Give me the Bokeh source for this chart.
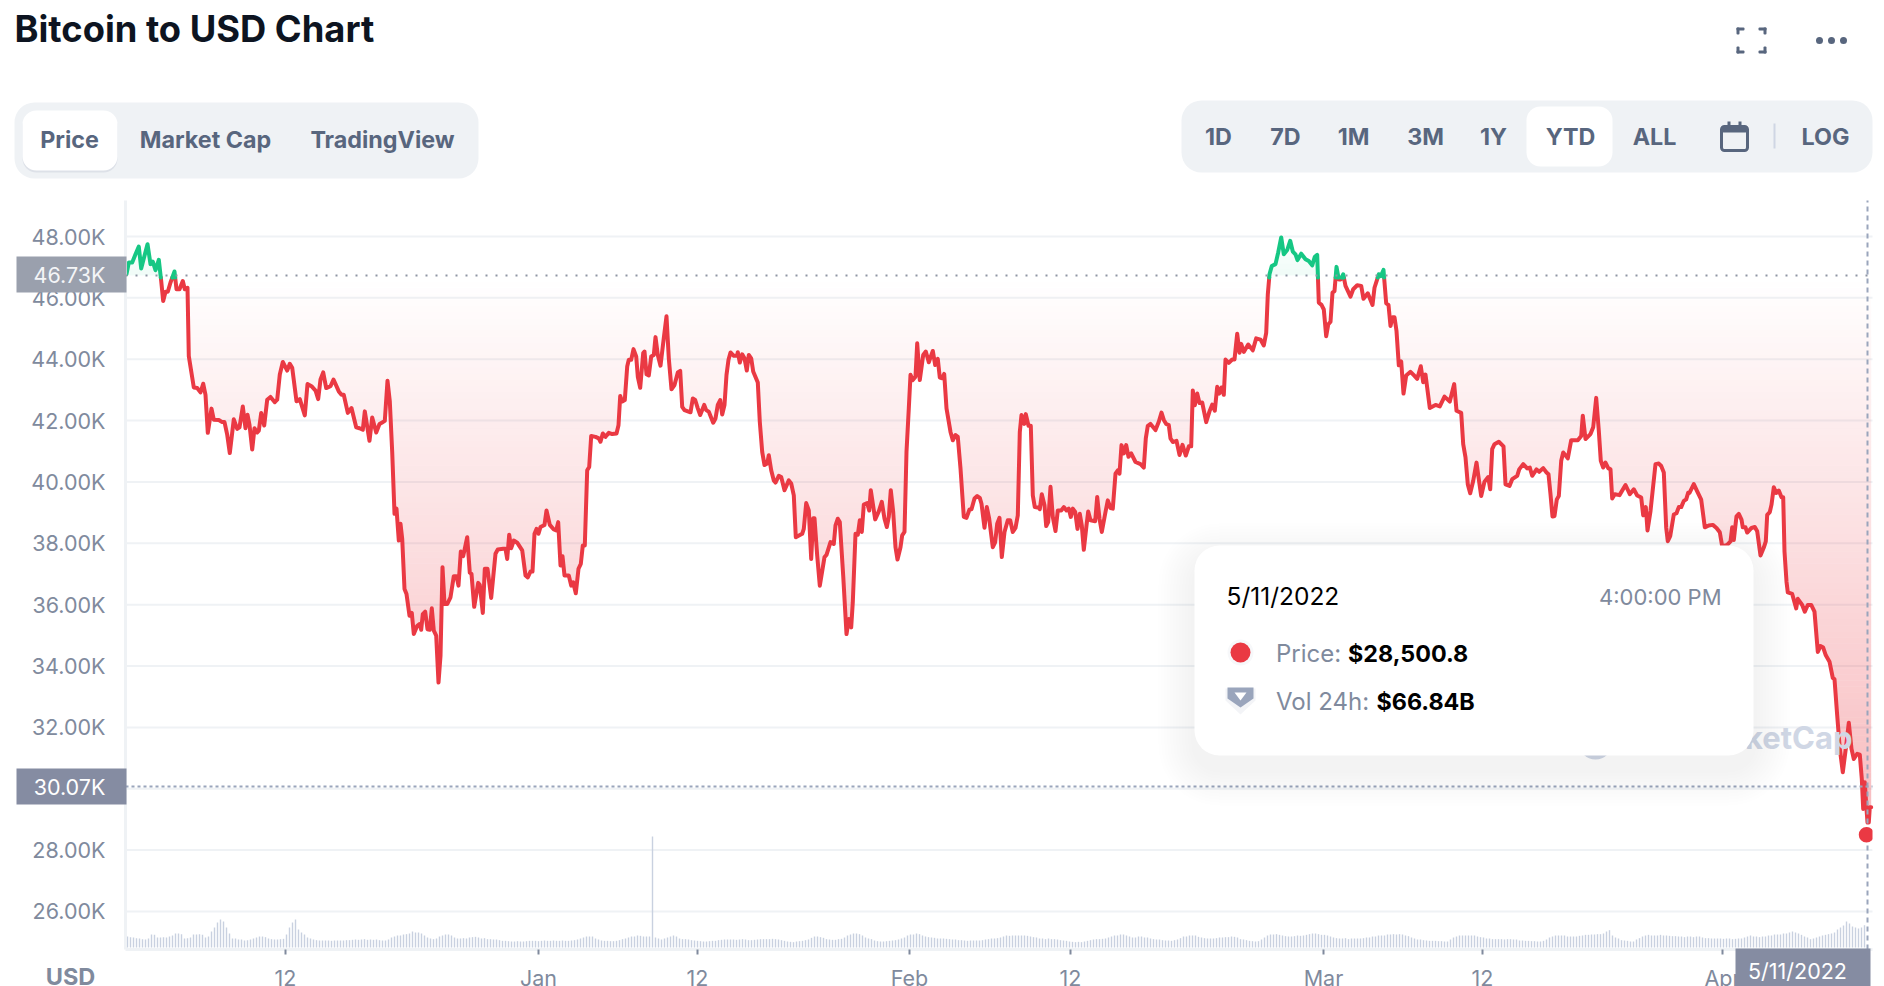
import numpy as np
from bokeh.plotting import figure
from bokeh.models import (BoxAnnotation, Label, PolyAnnotation, FixedTicker,
                          PrintfTickFormatter, Range1d)
from bokeh.embed import file_html
from bokeh.resources import INLINE

# ---------- data ----------
position = [
126,128.3,131.7,135,138.3,140.7,144,147,150,152.3,155,158.3,160.7,162.7,165,167.3,170,174,176,179,182.3,184.3,187,188.3,193.3,196.7,200,202.7,205,207.3,211,213.3,218.3,221.7,224,226.7,229.3,233.3,236.7,239,242.3,245,247,249,251.7,254,256.7,258.3,260.7,263.7,266.7,270,274.3,276.7,279.3,282.3,286.7,289.3,291.7,296,299.3,304.3,307,311,315,317.7,320,322.7,325.7,330,333,338.3,341,343.3,347.3,351,355.7,359,362.3,364.3,369,371.7,375.7,379,381.7,384.3,387,389.3,
391.7,394,396,398.3,400,401.7,404,406,409,411.3,413.3,416.7,419.3,420.7,422.3,424.7,427,429.3,431.3,433.3,435.7,438,440,442,444,446.7,450,453.3,456,458,460.3,462.7,466.7,469.3,471,473.7,477.7,479.3,482.3,484.3,487,490.7,495,497.3,502.7,505,506.7,508.7,510.7,513.3,516.7,521.7,525,527.3,530,532,534,536,538,540,544,546,549.3,553.3,555.7,557.7,560,562,564,568.3,570.7,572.7,575.3,578,580.3,582.3,584.3,586.7,588.7,590.7,595,598.3,600,602.3,605,608.3,611.7,616,618,619.7,621.7,624.3,626.7,628.3,630.7,633,635.7,637.3,639.7,
642.7,644,646,648.3,650.7,653.3,655,657.3,660,663.3,666,668.3,671,674,677.3,679.7,681.7,684,690,692.3,694.7,697.3,699.7,703.7,705.7,708.3,712.7,715,717.3,719.7,721.7,724,726,728,730,733.3,736.7,737.3,739.3,741.7,744,746.3,748.3,750.7,752.7,757.3,759.3,761.7,764,766.7,768.3,770.7,773.3,775,778.3,780.7,784,788.3,790.7,793.3,795.3,801.7,803.3,805.7,808.3,810.7,812.7,814,816.7,819.3,824,826,830,833.3,835,837.3,839.3,842.7,846,848.3,850.7,852.3,855,857.3,859.3,861.3,863.3,866.7,868.7,870.3,874.7,878.3,881.3,884,886.3,888.3,890.3,892.7,895,897,900,901.7,904,906,908.3,
910,912.3,915,916.7,919.3,922.7,925.3,928.3,932.3,934.7,937.3,939.3,941.7,943.7,946,950,952.3,955,957.3,960,963.3,966,969,971,974,976.7,979.3,981,984,986.3,988.7,992.3,994.7,996.7,999,1001.3,1004,1007.3,1009.7,1012.3,1015,1017.3,1019.3,1021,1023.7,1025.3,1028,1030.3,1032.3,1034.3,1038.3,1039.3,1041.3,1044,1045.7,1047.7,1050,1052.3,1055,1057.3,1060.7,1063.3,1066,1068.3,1070.3,1072.3,1074.7,1077,1079.3,1081.3,1083.3,1086,1087.7,1090,1094.7,1096.7,1099,1101.3,1105,1107.3,1110,1112.3,1115,1117.3,1119,1121,1123.3,1125.7,1128,1130.7,1135,1140,1143.3,1145.3,1147.3,1150,1155,1158.3,1161,1163.3,1165.7,1168.3,
1170,1172.3,1176,1179,1182,1185.3,1188.3,1190.7,1192.3,1194.3,1196.7,1199,1201.7,1205.7,1209,1211.7,1214.3,1216.7,1218.7,1221,1223.3,1225,1228.3,1231.7,1234,1236.7,1239,1240.7,1243.3,1247.7,1252.3,1255.7,1260,1263.3,1265.7,1267.3,1269,1271.3,1275,1277.7,1280.7,1283.3,1286.7,1289.7,1292.3,1295,1297,1300.7,1305,1308.3,1311.7,1314.3,1316.7,1318.3,1321,1323.3,1325.7,1327.7,1330,1332,1334,1336,1338.3,1340.3,1342.7,1345,1350,1352.7,1356.7,1360.7,1363,1367.3,1372,1374,1378.3,1380.3,1383,1385.7,1388,1390,1392,1394,1396,1398.3,1400.7,1403,1405.7,1410,1413.3,1416.7,1420.3,1422.7,1425,1429.3,
1435,1439.3,1444,1449.3,1453.7,1456,1460.7,1462.7,1465,1467.3,1469.7,1472.7,1476,1478.3,1480.7,1484,1487.7,1489.7,1491.7,1494,1498.3,1503,1505,1509,1511.7,1516.7,1518.7,1522.7,1526.7,1529.3,1531.7,1536,1538.7,1542.7,1546,1548,1550,1552,1554,1556.3,1558.3,1560.7,1562.7,1567.3,1570.7,1577.3,1580.7,1582.3,1585,1590,1592.7,1595.7,1598.3,1600.3,1602.7,1605,1607.7,1610,1611.7,1614.3,1619,1625,1629.3,1633.3,1636.7,1640.7,1642.7,1645.3,1647,1650,1655,1658.3,1660.7,1663.3,1665.7,1667.3,1669.7,1673.3,1676,1678.3,1680.7,1683.3,1685.7,1687.7,
1689,1693.3,1696.7,1700.7,1704.3,1708.3,1712.3,1716,1719.3,1721.7,1726.7,1730,1731.7,1733.3,1736,1738.3,1741,1742.3,1745,1746.7,1751,1754.3,1756.7,1760,1763.3,1765.3,1766.7,1769.3,1771,1773.3,1775.7,1778.3,1781,1782.7,1784,1786,1787.3,1791.7,1795.7,1797.3,1801.7,1804.3,1807.3,1810.7,1814,1817.3,1820,1822.7,1825.3,1829,1832.3,1834,1836.7,1839.3,1842.3,1845.7,1848.3,1851,1853.3,1856.7,1859.3,1861.3,1862.7,1864.3,1866,1867,1868.3,1869.3,1870.7,
]
price_k = [
46.77,47.15,47.15,47.42,47.67,46.96,47.37,47.75,47.10,47.18,46.90,47.24,46.55,45.90,46.20,46.20,46.50,46.86,46.28,46.28,46.55,46.28,46.33,44.10,43.08,43.06,42.92,43.20,42.84,41.60,42.39,42.03,42.02,41.95,41.95,41.54,40.94,42.04,41.73,41.78,42.46,41.75,42.19,41.86,41.06,41.75,41.61,41.67,42.25,41.84,42.68,42.77,42.60,42.68,43.50,43.91,43.63,43.85,43.72,42.63,42.70,42.17,43.19,43.12,42.98,42.70,43.34,43.57,43.06,43.12,43.34,42.95,42.84,42.84,42.25,42.41,41.78,41.75,41.70,42.30,41.34,42.10,41.61,41.89,41.94,41.99,43.30,42.63,
40.98,38.96,39.13,38.09,38.64,38.15,36.51,36.35,35.64,35.73,35.04,35.31,35.37,35.18,35.69,35.77,35.20,35.18,35.88,35.15,34.99,33.46,34.33,37.22,36.02,36.02,36.24,36.93,36.93,36.62,37.73,37.58,38.20,37.04,37.00,35.93,36.71,36.64,35.73,37.17,37.17,36.22,37.66,37.80,37.82,37.82,37.49,38.28,37.84,38.09,38.02,37.77,36.95,36.89,37.08,37.08,38.31,38.47,38.31,38.53,38.60,39.07,38.60,38.45,38.42,38.69,37.28,37.58,36.95,36.95,36.62,36.73,36.37,37.17,37.33,37.93,37.93,40.38,40.49,41.50,41.47,41.42,41.31,41.58,41.47,41.60,41.56,41.58,41.85,42.80,42.62,42.67,43.76,43.98,43.98,44.33,44.09,43.43,43.07,
44.20,44.25,43.51,43.47,44.09,44.14,44.72,44.14,43.79,44.69,45.40,44.03,43.02,43.16,43.57,43.62,42.45,42.34,42.27,42.72,42.67,42.40,42.18,42.51,42.34,42.29,41.93,42.07,42.51,42.67,42.20,42.51,43.49,43.98,44.22,44.11,44.11,44.23,43.89,44.16,44.03,43.63,44.14,44.03,43.60,43.24,41.96,40.98,40.55,40.60,40.87,40.38,40.05,39.98,40.20,40.16,39.73,40.05,39.95,39.56,38.20,38.31,38.47,39.31,39.07,37.49,38.82,38.82,37.60,36.62,37.55,37.62,38.04,37.98,38.58,38.80,38.69,36.95,35.04,35.53,35.26,36.08,38.31,38.28,38.75,38.37,39.26,39.31,39.07,39.73,38.78,39.04,39.35,38.80,38.53,38.86,39.73,39.02,37.87,37.47,37.87,38.26,38.37,40.98,42.40,
43.49,43.32,43.43,44.52,43.32,44.14,44.25,43.90,44.27,43.81,44.01,43.40,43.38,43.52,42.40,41.63,41.36,41.53,41.47,40.44,38.86,38.83,39.10,39.11,39.46,39.54,39.48,39.29,38.51,39.18,38.80,37.87,38.04,38.64,38.83,37.55,38.37,38.75,38.75,38.37,38.50,38.91,41.63,42.18,41.89,42.21,41.83,41.83,39.56,39.18,39.16,39.11,39.60,39.24,38.56,38.69,39.84,38.86,38.40,39.07,39.07,39.18,39.07,39.13,38.86,39.13,39.02,38.47,38.96,38.58,37.79,38.58,39.04,38.75,38.72,39.51,38.80,38.37,39.02,39.40,39.15,39.13,40.27,40.38,40.27,41.20,40.93,41.20,40.82,40.93,40.65,40.58,40.47,41.42,41.83,41.89,41.69,41.96,42.26,42.02,41.89,41.85,
41.42,41.30,41.34,40.88,41.21,40.86,41.16,41.16,42.98,42.50,42.88,42.57,42.59,41.95,42.30,42.52,42.32,43.10,42.88,43.08,42.84,43.99,43.88,43.99,43.99,44.83,44.21,44.50,44.24,44.48,44.29,44.68,44.64,44.45,44.86,46.11,46.77,47.04,47.10,47.48,47.97,47.42,47.56,47.86,47.51,47.42,47.23,47.44,47.26,47.20,47.06,47.34,47.40,45.84,45.77,45.62,44.75,45.13,45.22,46.17,46.22,47.01,46.60,46.60,46.77,46.39,46.04,46.28,46.41,46.39,45.97,46.15,45.77,46.33,46.77,46.71,46.91,45.82,45.77,45.08,45.37,45.37,44.92,43.80,43.93,42.88,43.47,43.59,43.48,43.36,43.77,43.25,43.50,42.41,
42.51,42.46,42.78,42.62,43.19,42.32,42.25,41.23,40.80,39.92,39.63,40.03,40.63,40.09,39.54,40.01,40.16,39.76,41.07,41.23,41.31,41.16,39.92,39.87,40.09,40.20,40.41,40.58,40.44,40.47,40.20,40.41,40.33,40.45,40.31,40.25,39.60,38.87,38.89,39.43,39.54,40.69,40.96,40.77,41.36,41.36,41.50,42.16,41.40,41.56,41.78,42.74,41.67,40.69,40.47,40.63,40.45,40.41,39.46,39.60,39.57,39.90,39.60,39.76,39.56,39.49,38.91,39.18,38.42,39.05,40.58,40.60,40.52,40.31,38.51,38.07,38.23,38.94,38.98,39.18,39.18,39.38,39.43,39.65,
39.64,39.93,39.69,39.42,38.52,38.58,38.60,38.50,38.36,37.90,37.95,38.06,38.52,38.11,38.88,38.96,38.77,38.52,38.52,38.35,38.50,38.53,38.39,37.60,37.86,38.06,38.93,39.02,39.26,39.83,39.64,39.72,39.50,39.50,37.73,36.75,36.40,36.35,35.88,36.19,35.99,35.77,35.99,35.99,35.77,34.46,34.65,34.60,34.35,34.14,33.61,33.57,32.39,31.30,30.54,31.41,32.15,31.30,30.97,31.14,31.11,30.32,29.34,30.21,29.34,28.90,28.90,29.40,29.40,
]
volume_b = [
33,31,30,28,27,25,24,27, 39,38,30,30,31,30,33,36, 42,42,40, 27,28,30, 39,39,40,38, 30,33, 48,60,75,84,78, 60,42,
27,27,24,24,21,22,24, 27,30,33, 33,31,27,25,24,24,25,26, 39,60,75, 84, 54,45,39,
30,27,24,22,21,21,21,21,20,21,21,21, 21,22,22,23,24,23,24,25,23,24,23,24,22,21, 21,24,30,33, 36,36,39,40,42,
48,45,45,42,36,30,27, 25,27,33,36, 39,39,36, 30,27,27,28,27,30,31, 32,30,27,28,25,25,24,24,
22,20,20,19,18,18,19,18,18,19,20,20,20,19, 20,21,20,20,21,20,20,21,20,20,21,22, 24,27,30,33,33, 33,27,24,21,20,20,19,
19,20,22,25,27,30,33,33, 36,35,33,33,33, 333, 30,27, 24,27,30,33, 36,33,27,25,25,24,22,21,20,19,
18,18,19,20,20,22,23,24,24,24, 24,23,24,25,24,22,22,23,24,25,25,25, 25,26,25,24,22,20,18,17, 16,18,19,20,22,24,29,33,
33,31,29,25,24,23,23,25, 26,30,36,39,42, 42,40,36,30,27,25,21,19,18, 18,19,20,21,22,24,27,30,36,39,39, 42,40,36,33,31,30,29,27,27,
27,26,25,24,24,22,22,21,20,21,21,21, 21,22,24,25,27,27,28,30,33,36,35,36,36,36, 36,36,35,33,31,30,27,27,25,27,25,25, 24,22,21,20,18,17,16,17,
16,18,20,22,24,25,25,26,27,30,33,36,36,39, 39,36,33,30, 30,33,33,30,30,27,25,24,24,22,21,21, 20,22,24,28,33,33,36,36, 36,32,30,28,27,27,
27,28,30,30,31,31,33,32, 30,25,24,22,20,19,18, 19,24,30,36,39,39,40, 38,36,34,33,33,34,36,35,36,38,40,42,42,40,38,38,
36,33,30,28,27,27,28,25,27,27,27,27, 28,30,30,33,33,36,36,36,39,39,40,39,40,39, 36,34,30,27,24,24,22,21,20,20,20,19,19,18,
18,24,30,33,36,36,36,36, 36,36,33,31,30,27,27,25,25,25,25,24,25,25, 24,24,21,21,20,20,19,19,18,18, 20,24,30,33,36,36,36,
36,33,33,33,33,35,36,38,38,39,39, 40,40,42,48,52, 36,30,27,22,21,20,18, 18,24,28,33,36,38,36,36,
36,38,36,36,35,34,34,33,33,31,33,33, 31,33,33,30,28,28,27,27,27,27,26,27,27,25, 26,27,27,30,33,36,33,33,
31,33,33,36,36,39,39,39,42,42,45, 48,45,42,38,33,30,25, 27,30,33,36,38,40,42, 45,54,60,66, 78,72,63, 60,57,60,66.84,
]
price_ticks = [26, 28, 30, 32, 34, 36, 38, 40, 42, 44, 46, 48]
date_ticks = [285, 538, 697, 909, 1070, 1323, 1482, 1722]
date_labels = ["12", "Jan", "12", "Feb", "12", "Mar", "12", "Apr"]
open_price = 46.73
close_line = 30.07
last_price = 28.5008
tabs_left = [("Price", 69), ("Market Cap", 205), ("TradingView", 382)]
tabs_right = [("1D", 1218), ("7D", 1285), ("1M", 1353), ("3M", 1425), ("1Y", 1493), ("YTD", 1570), ("ALL", 1654), ("LOG", 1825)]

# ---------- colours ----------
RED, GREEN = "#EA3943", "#16C784"
GREY, SLATE, PALE = "#808A9D", "#58667E", "#EFF2F5"
DASH = "#9AA5BC"

# ---------- the frame fills the whole canvas, so nothing is clipped;
# the value scales are placed so that the chart body is at x 125..1872, y 200..949 ----------
OFF = 0
W, H = 1884, 986
PX_PER_K = 30.68
y_top = 48 + (236 - OFF) / PX_PER_K
y_bot = 48 - (OFF + H - 236) / PX_PER_K
body_low = 48 - (949 - 236) / PX_PER_K
body_high = 48 - (200 - 236) / PX_PER_K

p = figure(width=W, height=H, min_border=0, x_range=Range1d(OFF, OFF + W), y_range=Range1d(y_bot, y_top),
           toolbar_location=None, output_backend="svg", background_fill_color="white")
p.outline_line_color = None
p.grid.visible = False
p.yaxis.fixed_location = 125
p.yaxis.bounds = (body_low, body_high)
p.yaxis.ticker = FixedTicker(ticks=price_ticks)
p.yaxis.formatter = PrintfTickFormatter(format="%.2fK")
p.yaxis.major_tick_line_color = None
p.yaxis.minor_tick_line_color = None
p.yaxis.major_label_standoff = 14
p.yaxis.axis_line_color = PALE
p.yaxis.axis_line_width = 3
p.xaxis.fixed_location = body_low
p.xaxis.bounds = (125, 1872)
p.xaxis.ticker = FixedTicker(ticks=date_ticks)
p.xaxis.major_label_overrides = dict(zip(date_ticks, date_labels))
p.xaxis.minor_tick_line_color = None
p.xaxis.major_tick_in = 0
p.xaxis.major_tick_out = 5
p.xaxis.major_tick_line_color = GREY
p.xaxis.major_tick_line_width = 2
p.xaxis.axis_line_color = PALE
p.xaxis.axis_line_width = 3
p.xaxis.major_label_standoff = 10
for ax in (p.xaxis, p.yaxis):
    ax.major_label_text_font = "Inter"
    ax.major_label_text_font_size = "21.5px"
    ax.major_label_text_color = GREY

# horizontal grid lines
p.segment(x0=[125] * len(price_ticks), x1=[1872] * len(price_ticks), y0=price_ticks, y1=price_ticks,
          line_color=PALE, line_width=2)

# volume bars on their own hidden scale (3 B per pixel)
vol_start = -(OFF + H - 947) * 3
p.extra_y_ranges = {"vol": Range1d(vol_start, vol_start + H * 3)}
p.vbar(x=[127 + 3 * i for i in range(len(volume_b))], top=volume_b, bottom=0, width=1.4,
       y_range_name="vol", color="#C9D1E0", line_color=None)

# area between the curve and the opening price, as stacked translucent bands
X = np.array(position, float)
P = np.array(price_k, float)

def with_crossings(levels):
    xs = [X]
    for L in levels:
        d = P - L
        i = np.where(d[:-1] * d[1:] < 0)[0]
        xs.append(X[i] + (L - P[i]) / (P[i + 1] - P[i]) * (X[i + 1] - X[i]))
    x = np.unique(np.concatenate(xs))
    return x, np.interp(x, X, P)

step = 0.2
tops = np.arange(open_price, 28.4, -step)
for b in tops:
    a = b - step
    x, y = with_crossings([a, b])
    p.varea(x=x, y1=np.clip(y, a, b), y2=np.full(len(x), b), color=RED,
            alpha=float(0.019 * (open_price - (a + b) / 2)))
for a in np.arange(open_price, 48.0, step):
    b = a + step
    x, y = with_crossings([a, b])
    p.varea(x=x, y1=np.full(len(x), a), y2=np.clip(y, a, b), color=GREEN,
            alpha=float(0.06 * (1 - (a - open_price) / 1.3)))

# price line, green above the opening price and red below it
threshold = 46.66
xl, yl = with_crossings([threshold])
p.line(xl, np.where(yl <= threshold + 1e-9, yl, np.nan), color=RED, line_width=4,
       line_join="round", line_cap="round")
p.line(xl, np.where(yl >= threshold - 1e-9, yl, np.nan), color=GREEN, line_width=4,
       line_join="round", line_cap="round")

# reference lines
p.segment(x0=[125], x1=[1872], y0=[open_price], y1=[open_price], line_color="#8E95A3",
          line_width=2, line_dash="2 8", level="annotation")
p.segment(x0=[125], x1=[1872], y0=[close_line], y1=[close_line], line_color=DASH,
          line_width=2, line_dash="3 3", level="annotation")
p.segment(x0=[1867], x1=[1867], y0=[body_low], y1=[body_high], line_color=DASH,
          line_width=2, line_dash="5 4", level="annotation")
p.scatter([1866], [last_price], size=15.5, color=RED, line_color=None, level="overlay")

# ---------- helpers in window pixels ----------
def box(x0, y0, x1, y1, color=None, radius=0, alpha=1.0, line=None, lw=1):
    p.add_layout(BoxAnnotation(left=x0 - OFF, right=x1 - OFF, top=OFF + H - y0, bottom=OFF + H - y1,
                               left_units="screen", right_units="screen", top_units="screen", bottom_units="screen",
                               fill_color=color, fill_alpha=alpha if color else 0,
                               line_color=line, line_width=lw, line_alpha=1 if line else 0,
                               border_radius=int(radius), level="overlay"))

def text(t, x, y, size=23.3, color=SLATE, bold=False, align="center"):
    p.add_layout(Label(x=x - OFF, y=OFF + H - y, x_units="screen", y_units="screen", text=t,
                       text_font="Inter", text_font_size=f"{size}px", text_color=color,
                       text_font_style="bold" if bold else "normal",
                       text_align=align, text_baseline="middle", level="overlay"))

def poly(pts, color):
    p.add_layout(PolyAnnotation(xs=[a - OFF for a, _ in pts], ys=[OFF + H - b for _, b in pts],
                                xs_units="screen", ys_units="screen", fill_color=color, fill_alpha=1,
                                line_color=None, level="overlay"))

box(1872, 820, 1884, 850, "#FFFFFF")

# value tags on the axes
box(16, 256, 126, 292, "#9AA0AD")
text("46.73K", 69, 274, 21.5, "#F4F5F7")
box(16, 768, 126, 804, "#858CA2")
text("30.07K", 69, 786, 21.5, "#FFFFFF")
box(1735, 948, 1870, 986, "#858CA2")
text("5/11/2022", 1797, 970, 21.5, "#FFFFFF")
text("USD", 70, 976, 23.5, GREY, bold=True)

# title and icons
text("Bitcoin to USD Chart", 14, 28, 36.3, "#0D1421", bold=True, align="left")
for x0, x1 in ((1736, 1744), (1758, 1766)):
    for y0 in (27, 50):
        box(x0, y0, x1, y0 + 3, SLATE, 1)
for x0 in (1736, 1763):
    for y0 in (27, 46):
        box(x0, y0, x0 + 3, y0 + 7, SLATE, 1)
for cx in (1819, 1831, 1843):
    box(cx - 3.5, 36.5, cx + 3.5, 43.5, SLATE, 4)

# tab pills
box(14, 102, 478, 178, PALE, 20)
box(22, 112, 117, 172, "#DDE1E8", 14)
box(22, 110, 117, 170, "#FFFFFF", 14)
for t, cx in tabs_left:
    text(t, cx, 139, bold=True)
box(1181, 100, 1872, 172, PALE, 20)
box(1526, 106, 1612, 166, "#FFFFFF", 14)
for t, cx in tabs_right:
    text(t, cx, 136, bold=True)
box(1721, 126, 1747, 150, None, 3, line=SLATE, lw=3)
box(1721, 126, 1747, 132, SLATE, 2)
box(1727, 121, 1730, 127, SLATE)
box(1738, 121, 1741, 127, SLATE)
box(1773, 123, 1775, 148, "#CFD6E4")

# watermark, partly behind the tooltip
box(1578, 725, 1612, 759, "#D0D7E5", 17)
text("CoinMarketCap", 1852, 737, 31, "#D0D7E5", bold=True, align="right")

# tooltip with soft shadow
for i in range(1, 13):
    g = 3 * i
    box(1194 - g, 545 - g + 14, 1753 + g, 755 + g + 14, "#58667E", 25 + g, alpha=0.006)
box(1194, 545, 1753, 755, "#FFFFFF", 25)
text("5/11/2022", 1226, 595, 24.5, "#000000", align="left")
text("4:00:00 PM", 1721, 596, 22, GREY, align="right")
box(1227, 639, 1253, 665, "#F7F8FA", 13)
box(1230, 642, 1250, 662, RED, 10)
text("Price:", 1275.5, 653, 24, GREY, align="left")
text("$28,500.8", 1347.6, 653, 23.3, "#000000", bold=True, align="left")
poly([(1225, 688), (1255, 688), (1255, 700), (1240, 714), (1225, 700)], "#F3F4F7")
poly([(1227, 687), (1253, 687), (1253, 698), (1240, 707), (1227, 698)], DASH)
poly([(1234, 692), (1246, 692), (1240, 700)], "#FFFFFF")
text("Vol 24h:", 1275.5, 701, 24, GREY, align="left")
text("$66.84B", 1376, 701, 23.3, "#000000", bold=True, align="left")

open("out.html", "w").write(file_html(p, INLINE))
